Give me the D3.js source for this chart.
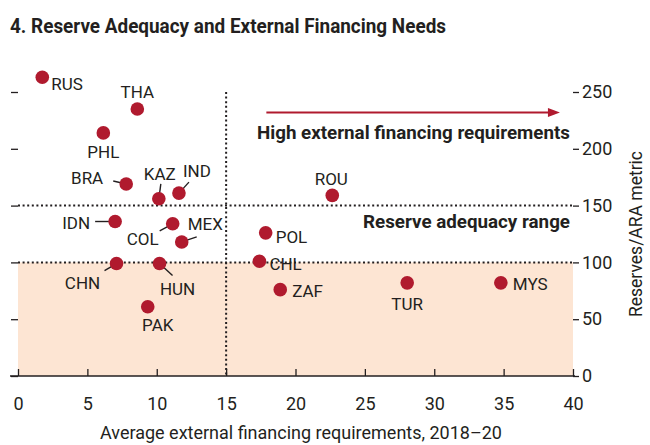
<!DOCTYPE html>
<html>
<head>
<meta charset="utf-8">
<script src="https://cdn.jsdelivr.net/npm/d3@7"></script>
<style>
  body { margin: 0; background: #fff; }
  svg text { fill: #231f20; }
</style>
</head>
<body>
<div id="chart"></div>
<script>
'use strict';

/* Data */
const countries = ['RUS', 'THA', 'PHL', 'BRA', 'KAZ', 'IND', 'IDN', 'COL', 'MEX',
                   'CHN', 'HUN', 'PAK', 'POL', 'CHL', 'ZAF', 'ROU', 'TUR', 'MYS'];
const financing = [1.75, 8.6, 6.15, 7.8, 10.15, 11.6, 7.0, 11.15, 11.8,
                   7.1, 10.2, 9.35, 17.85, 17.4, 18.9, 22.65, 28.05, 34.8];
const reserves  = [263, 235, 214, 169, 156, 161, 136, 134, 118,
                   99, 99, 61, 126, 101, 76, 159, 82, 82];
const xTicks = [0, 5, 10, 15, 20, 25, 30, 35, 40];
const yTicks = [0, 50, 100, 150, 200, 250];
const adequacyRange = [100, 150];
const financingThreshold = 15;

/* Label placement (pixels relative to the dot) */
const labelLayout = {
    RUS: { dx: 9,   dy: 13,  anchor: 'start' },
    THA: { dx: 0,   dy: -11, anchor: 'middle' },
    PHL: { dx: 0,   dy: 25,  anchor: 'middle' },
    BRA: { dx: -23, dy: 0,   anchor: 'end',    lead: [-13, -3] },
    KAZ: { dx: 1,   dy: -19, anchor: 'middle', lead: [2, -15] },
    IND: { dx: 18,  dy: -16, anchor: 'middle', lead: [10, -11] },
    IDN: { dx: -25, dy: 7,   anchor: 'end',    lead: [-20, 0] },
    COL: { dx: -30, dy: 21,  anchor: 'middle', lead: [-13, 7] },
    MEX: { dx: 6,   dy: -12, anchor: 'start',  lead: [15, -5] },
    CHN: { dx: -34, dy: 25,  anchor: 'middle', lead: [-12, 7] },
    HUN: { dx: 18,  dy: 31,  anchor: 'middle', lead: [13, 12] },
    PAK: { dx: 10,  dy: 24,  anchor: 'middle' },
    POL: { dx: 10,  dy: 10,  anchor: 'start' },
    CHL: { dx: 10,  dy: 9,   anchor: 'start' },
    ZAF: { dx: 12,  dy: 7,   anchor: 'start' },
    ROU: { dx: -1,  dy: -10, anchor: 'middle' },
    TUR: { dx: 0,   dy: 27,  anchor: 'middle' },
    MYS: { dx: 12,  dy: 7,   anchor: 'start' }
};

const W = 650, H = 445;
const RED = '#b01a2e';
const INK = '#231f20';
const FONT = "Roboto, 'Liberation Sans', sans-serif";

const svg = d3.select('#chart').append('svg').attr('width', W).attr('height', H);

const x = d3.scaleLinear([0, 40], [18, 573]);
const y = d3.scaleLinear([0, 250], [376, 92]);

/* condensed look: squeeze text into the width measured on the reference */
function squeezed(sel, len) {
    return sel.attr('textLength', len).attr('lengthAdjust', 'spacingAndGlyphs');
}

/* Title */
squeezed(svg.append('text').attr('x', 10).attr('y', 33)
    .attr('font-family', FONT).attr('font-weight', 'bold').attr('font-size', 21)
    .text('4. Reserve Adequacy and External Financing Needs'), 436);

/* Shaded area below reserve adequacy range */
svg.append('rect')
    .attr('x', x(0)).attr('y', y(adequacyRange[0]))
    .attr('width', x(40) - x(0)).attr('height', y(0) - y(adequacyRange[0]))
    .attr('fill', '#fde5d3');

/* Dotted reference lines */
const dotted = svg.append('g').attr('stroke', INK).attr('stroke-width', 2).attr('stroke-dasharray', '2,2.6');
adequacyRange.forEach(v => {
    dotted.append('line').attr('x1', x(0)).attr('x2', x(40)).attr('y1', y(v)).attr('y2', y(v));
});
dotted.append('line').attr('x1', x(financingThreshold)).attr('x2', x(financingThreshold))
    .attr('y1', y(250)).attr('y2', y(0));

/* Axes */
const xAxis = svg.append('g').attr('transform', `translate(0,${y(0)})`)
    .call(d3.axisBottom(x).tickValues(xTicks).tickSizeInner(-7).tickSizeOuter(0).tickPadding(21));
xAxis.select('.domain').remove();
xAxis.selectAll('line').attr('stroke', INK).attr('stroke-width', 1.3);
xAxis.selectAll('text').attr('font-family', FONT).attr('font-size', 18).attr('fill', INK);
svg.append('line').attr('x1', x(0) - 8).attr('x2', x(40) + 2).attr('y1', y(0)).attr('y2', y(0))
    .attr('stroke', INK).attr('stroke-width', 1.3);

const yAxisR = svg.append('g').attr('transform', `translate(${x(40)},0)`)
    .call(d3.axisRight(y).tickValues(yTicks).tickSize(6).tickPadding(3));
yAxisR.select('.domain').remove();
yAxisR.selectAll('line').attr('stroke', INK).attr('stroke-width', 1.3);
yAxisR.selectAll('text').attr('font-family', FONT).attr('font-size', 18).attr('fill', INK);

const yAxisL = svg.append('g').attr('transform', `translate(${x(0)},0)`)
    .call(d3.axisLeft(y).tickValues(yTicks).tickSize(7).tickFormat(''));
yAxisL.select('.domain').remove();
yAxisL.selectAll('line').attr('stroke', INK).attr('stroke-width', 1.3);

/* Axis titles */
squeezed(svg.append('text').attr('x', 301).attr('y', 439).attr('text-anchor', 'middle')
    .attr('font-family', FONT).attr('font-size', 18.5)
    .text('Average external financing requirements, 2018\u201320'), 402);
squeezed(svg.append('text').attr('transform', 'translate(642,234) rotate(-90)').attr('text-anchor', 'middle')
    .attr('font-family', FONT).attr('font-size', 18.5)
    .text('Reserves/ARA metric'), 166);

/* Annotations */
const arrowY = y(232);
svg.append('line').attr('x1', x(17.9)).attr('x2', x(39.06) - 8).attr('y1', arrowY).attr('y2', arrowY)
    .attr('stroke', RED).attr('stroke-width', 2);
svg.append('path')
    .attr('d', `M${x(39.06)},${arrowY} l-12,-4.5 l0,9 z`)
    .attr('fill', RED);
squeezed(svg.append('text').attr('x', x(40) - 3).attr('y', 139).attr('text-anchor', 'end')
    .attr('font-family', FONT).attr('font-weight', 'bold').attr('font-size', 19)
    .text('High external financing requirements'), 313);
squeezed(svg.append('text').attr('x', x(40) - 3).attr('y', 228).attr('text-anchor', 'end')
    .attr('font-family', FONT).attr('font-weight', 'bold').attr('font-size', 19)
    .text('Reserve adequacy range'), 207);

/* Points */
const points = countries.map((c, i) => ({ c, fx: financing[i], rv: reserves[i] }));

const leads = svg.append('g').attr('stroke', INK).attr('stroke-width', 1.4);
points.forEach(d => {
    const L = labelLayout[d.c];
    if (L.lead) {
        leads.append('line')
            .attr('x1', x(d.fx) + L.lead[0]).attr('y1', y(d.rv) + L.lead[1])
            .attr('x2', x(d.fx)).attr('y2', y(d.rv));
    }
});

svg.append('g').selectAll('circle')
    .data(points)
    .join('circle')
    .attr('cx', d => x(d.fx))
    .attr('cy', d => y(d.rv))
    .attr('r', 6.8)
    .attr('fill', RED);

svg.append('g').selectAll('text')
    .data(points)
    .join('text')
    .attr('x', d => x(d.fx) + labelLayout[d.c].dx)
    .attr('y', d => y(d.rv) + labelLayout[d.c].dy)
    .attr('text-anchor', d => labelLayout[d.c].anchor)
    .attr('font-family', FONT)
    .attr('font-size', 17)
    .text(d => d.c);
</script>
</body>
</html>
